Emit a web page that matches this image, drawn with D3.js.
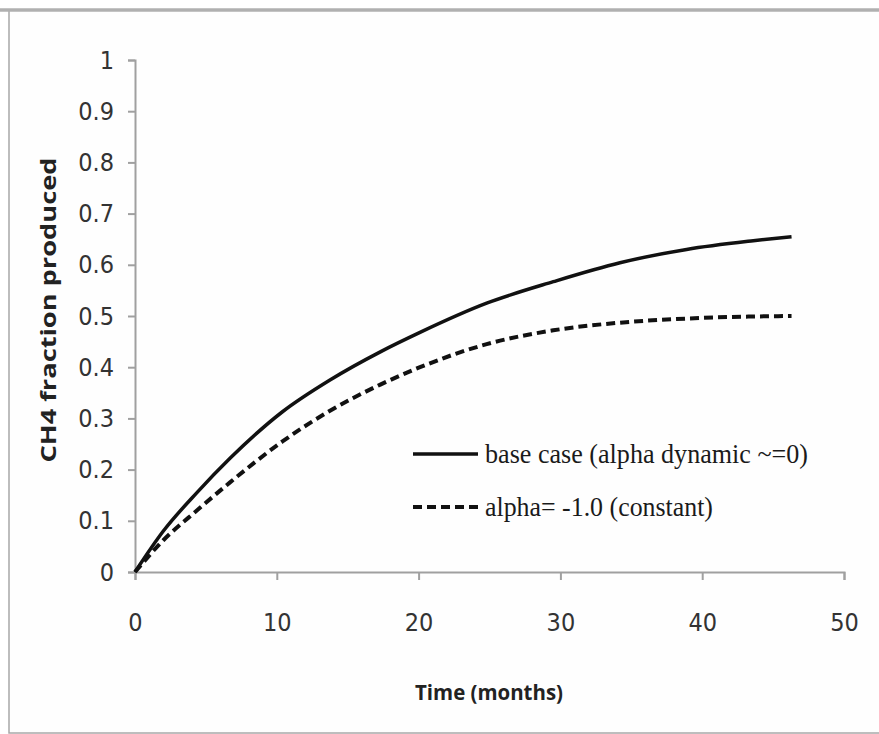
<!DOCTYPE html>
<html>
<head>
<meta charset="utf-8">
<script src="https://cdn.jsdelivr.net/npm/d3@7"></script>
<style>
  html, body { margin: 0; padding: 0; background: #fff; }
  svg { display: block; }
</style>
</head>
<body>
<div id="chart"></div>
<script>
// values
const timeMonths = [0, 2, 4.4, 6.7, 10.4, 13.75, 17.3, 20.1, 24.8, 29.5, 34.2, 38.9, 43.6, 46.3];
const baseFrac = [0, 0.08, 0.156, 0.222, 0.313, 0.375, 0.43, 0.468, 0.525, 0.567, 0.604, 0.63, 0.647, 0.655];
const constFrac = [0, 0.062, 0.121, 0.175, 0.255, 0.315, 0.366, 0.4, 0.445, 0.472, 0.487, 0.495, 0.499, 0.5];

const xTicks = [0, 10, 20, 30, 40, 50];
const yTicks = [0, 0.1, 0.2, 0.3, 0.4, 0.5, 0.6, 0.7, 0.8, 0.9, 1];

const legendLabels = ['base case (alpha dynamic ~=0)', 'alpha= -1.0 (constant)'];

const W = 879, H = 734;
const tickFont = '"Liberation Sans Narrow", "DejaVu Sans Condensed", "Arial Narrow", sans-serif';

const svg = d3.select('#chart').append('svg')
    .attr('width', W)
    .attr('height', H);

// outer frame
svg.append('rect')
    .attr('x', 9).attr('y', 10)
    .attr('width', W + 10).attr('height', 723)
    .attr('fill', '#fefefe')
    .attr('stroke', '#a8a8a8')
    .attr('stroke-width', 1.5);
svg.append('line')
    .attr('x1', 0).attr('x2', W)
    .attr('y1', 10).attr('y2', 10)
    .attr('stroke', '#b0b0b0')
    .attr('stroke-width', 3.5);

const x = d3.scaleLinear().domain([0, 50]).range([135, 844]);
const y = d3.scaleLinear().domain([0, 1]).range([572, 60]);

const xAxis = svg.append('g')
    .attr('transform', `translate(0,${y(0)})`)
    .call(d3.axisBottom(x).tickValues(xTicks).tickSize(8).tickPadding(33).tickFormat(d3.format('d')));

const yAxis = svg.append('g')
    .attr('transform', `translate(${x(0)},0)`)
    .call(d3.axisLeft(y).tickValues(yTicks).tickSize(7).tickPadding(14).tickFormat(d => d === 0 || d === 1 ? String(d) : d3.format('.1f')(d)));

[xAxis, yAxis].forEach(g => {
    g.selectAll('path, line').attr('stroke', '#a0a0a0').attr('stroke-width', 2);
    g.selectAll('text')
        .attr('fill', '#333')
        .style('font-family', tickFont)
        .style('font-size', '25px');
});

// axis titles
svg.append('text')
    .attr('transform', 'translate(56,310) rotate(-90)')
    .attr('text-anchor', 'middle')
    .attr('textLength', 305)
    .attr('lengthAdjust', 'spacingAndGlyphs')
    .style('font-family', '"Open Sans", "DejaVu Sans", sans-serif')
    .style('font-weight', 'bold')
    .style('font-size', '21px')
    .attr('fill', '#222')
    .text('CH4 fraction produced');

svg.append('text')
    .attr('x', 489).attr('y', 700)
    .attr('text-anchor', 'middle')
    .attr('textLength', 148)
    .attr('lengthAdjust', 'spacingAndGlyphs')
    .style('font-family', '"Open Sans", "DejaVu Sans", sans-serif')
    .style('font-weight', 'bold')
    .style('font-size', '21px')
    .attr('fill', '#222')
    .text('Time (months)');

// curves
const line = d3.line()
    .x(d => x(d[0]))
    .y(d => y(d[1]))
    .curve(d3.curveMonotoneX);

svg.append('path')
    .datum(d3.zip(timeMonths, constFrac))
    .attr('d', line)
    .attr('fill', 'none')
    .attr('stroke', '#111')
    .attr('stroke-width', 4)
    .attr('stroke-dasharray', '9,5');

svg.append('path')
    .datum(d3.zip(timeMonths, baseFrac))
    .attr('d', line)
    .attr('fill', 'none')
    .attr('stroke', '#111')
    .attr('stroke-width', 3.5);

// legend
const legendRows = [
    { label: legendLabels[0], dash: null, y: 454, len: 323 },
    { label: legendLabels[1], dash: '9,5', y: 507, len: 228 }
];

const lg = svg.append('g');
legendRows.forEach(r => {
    lg.append('line')
        .attr('x1', 413).attr('x2', 478)
        .attr('y1', r.y).attr('y2', r.y)
        .attr('stroke', '#111')
        .attr('stroke-width', r.dash ? 4 : 3.5)
        .attr('stroke-dasharray', r.dash);
    lg.append('text')
        .attr('x', 485).attr('y', r.y + 9)
        .attr('textLength', r.len)
        .attr('lengthAdjust', 'spacingAndGlyphs')
        .style('font-family', '"Liberation Serif", "DejaVu Serif", serif')
        .style('font-size', '28px')
        .attr('fill', '#1a1a1a')
        .text(r.label);
});
</script>
</body>
</html>
